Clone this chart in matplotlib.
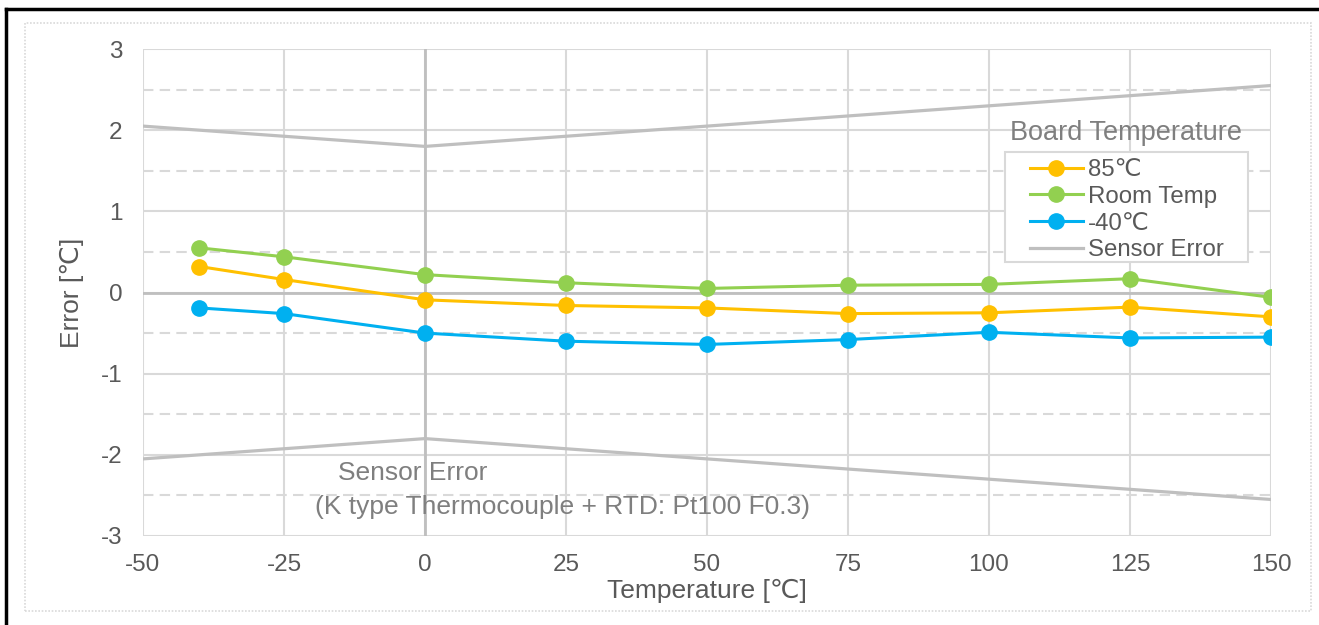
import matplotlib
matplotlib.use('Agg')
import matplotlib.pyplot as plt
from matplotlib.lines import Line2D
from matplotlib.patches import Rectangle

plt.rcParams['font.family'] = ['Liberation Sans', 'DejaVu Sans']
plt.rcParams['axes.unicode_minus'] = False

# measured temperatures
temps = [-40, -25, 0, 25, 50, 75, 100, 125, 150]
err_85 = [0.32, 0.16, -0.09, -0.16, -0.19, -0.26, -0.25, -0.18, -0.30]
err_room = [0.55, 0.44, 0.22, 0.12, 0.05, 0.09, 0.10, 0.17, -0.06]
err_m40 = [-0.19, -0.26, -0.50, -0.60, -0.64, -0.58, -0.49, -0.56, -0.55]

# sensor error band (thermocouple + Pt100 F0.3)
sens_t = [-50, -25, 0, 25, 50, 75, 100, 125, 150]
sens_err = [2.05, 1.925, 1.8, 1.925, 2.05, 2.175, 2.3, 2.425, 2.55]

x_ticks = [-50, -25, 0, 25, 50, 75, 100, 125, 150]
y_ticks = [-3, -2, -1, 0, 1, 2, 3]

W, H = 1319, 625
fig = plt.figure(figsize=(W / 100, H / 100), dpi=100)
ax = fig.add_axes([143 / W, 1 - 536 / H, (1271 - 143) / W, (536 - 49) / H])

grid_c = '#D9D9D9'
text_c = '#595959'

# grid
for yv in [-2.5, -1.5, -0.5, 0.5, 1.5, 2.5]:
    ax.axhline(yv, color=grid_c, lw=1.5, ls=(0, (5, 3)), zorder=0)
for yv in y_ticks:
    ax.axhline(yv, color=grid_c, lw=1.5, zorder=0)
for xv in x_ticks:
    ax.axvline(xv, color=grid_c, lw=1.5, zorder=0)
ax.axhline(0, color='#BFBFBF', lw=2, zorder=1)
ax.axvline(0, color='#BFBFBF', lw=2, zorder=1)

ax.plot(sens_t, sens_err, color='#BFBFBF', lw=2.3, zorder=2, label='Sensor Error')
ax.plot(sens_t, [-v for v in sens_err], color='#BFBFBF', lw=2.3, zorder=2)

ax.plot(temps, err_85, color='#FFC000', lw=2.2, marker='o', ms=11, zorder=3, label='85℃')
ax.plot(temps, err_room, color='#92D050', lw=2.2, marker='o', ms=11, zorder=3, label='Room Temp')
ax.plot(temps, err_m40, color='#00B0F0', lw=2.2, marker='o', ms=11, zorder=3, label='-40℃')

ax.set_xlim(-50, 150)
ax.set_ylim(-3, 3)
ax.set_xticks(x_ticks)
ax.set_yticks(y_ticks)
ax.tick_params(length=0, labelsize=17.5, colors=text_c)
ax.tick_params(axis='y', pad=15)
ax.tick_params(axis='x', pad=13)
for s in ax.spines.values():
    s.set_visible(False)

ax.set_xlabel('Temperature [℃]', fontsize=19, color=text_c, labelpad=2)
ax.set_ylabel('Error [℃]', fontsize=19, color=text_c, labelpad=12)

ax.text(-15.4, -2.22, 'Sensor Error', fontsize=19, color='#7F7F7F', va='center', ha='left')
ax.text(-19.5, -2.64, '(K type Thermocouple + RTD: Pt100 F0.3)', fontsize=19,
        color='#7F7F7F', va='center', ha='left')

h, l = ax.get_legend_handles_labels()
order = [1, 2, 3, 0]
leg = ax.legend([h[i] for i in order], [l[i] for i in order],
                loc='upper left', bbox_to_anchor=(1030 / W, 1 - 159 / H),
                bbox_transform=fig.transFigure, fontsize=17.3, frameon=False,
                handlelength=2.2, handletextpad=0.2, labelspacing=0.2,
                borderpad=0, borderaxespad=0)
for t in leg.get_texts():
    t.set_color(text_c)
leg.set_zorder(6)
# legend box drawn by hand (wider side padding than matplotlib allows)
ax.add_patch(Rectangle((1005 / W, 1 - 262 / H), (1248 - 1005) / W, (262 - 152) / H,
                       transform=fig.transFigure, fill=True, fc='white', ec=grid_c,
                       lw=1.5, zorder=5, clip_on=False))
fig.text(1010 / W, 1 - 133 / H, 'Board Temperature', fontsize=19.5,
         color='#7F7F7F', va='center', ha='left')

# chart frame and crop edge
fig.add_artist(Rectangle((25 / W, 1 - 611 / H), (1311 - 25) / W, (611 - 23) / H,
                         transform=fig.transFigure, fill=False, ec=grid_c,
                         lw=1.2, ls=(0, (1, 1))))
fig.add_artist(Line2D([6 / W, 6 / W], [0, 1 - 9 / H], transform=fig.transFigure,
                      color='black', lw=2.5))
fig.add_artist(Line2D([6 / W, 1], [1 - 9 / H, 1 - 9 / H], transform=fig.transFigure,
                      color='black', lw=2.5))

fig.savefig('out.png', dpi=100)
